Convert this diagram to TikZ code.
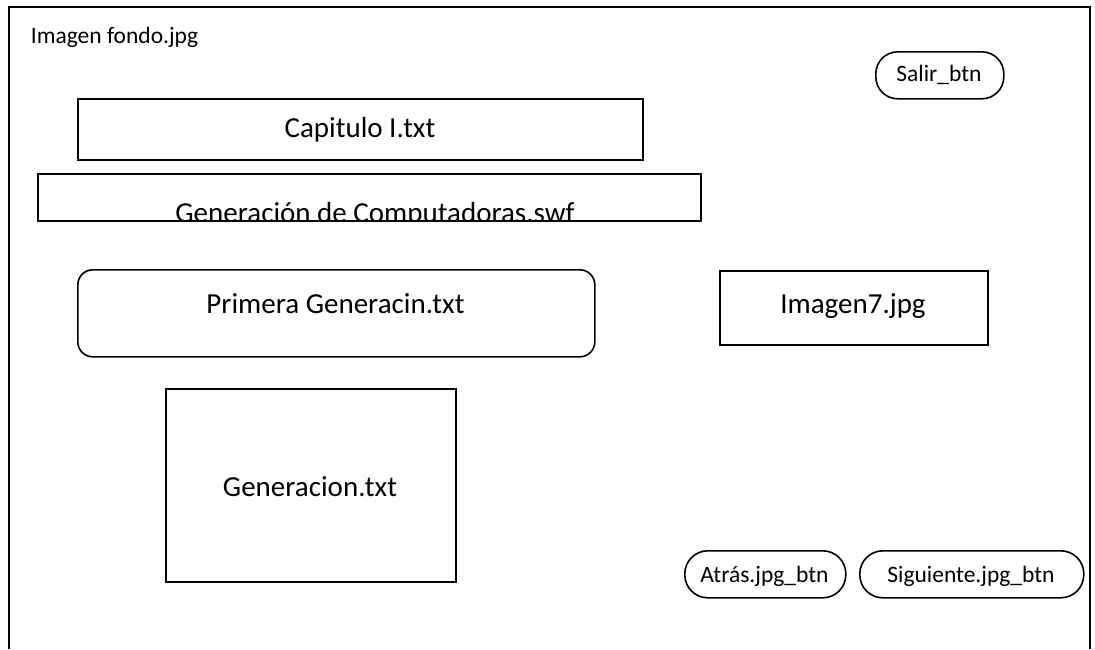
\documentclass[tikz,border=0pt]{standalone}
\usepackage{fontspec}
\setmainfont{Carlito}
\begin{document}
\begin{tikzpicture}[x=1pt,y=-1pt,
  ln/.style={line width=1.6pt, black},
  boxed/.style={ln, draw, rectangle, inner sep=0pt, anchor=north west},
  small/.style={font=\fontsize{23.5}{28}\selectfont, anchor=base, inner sep=0pt},
  big/.style={font=\fontsize{29}{34}\selectfont, anchor=base, inner sep=0pt}]
\useasboundingbox (0,0) rectangle (1095,649);
% outer frame (open at the bottom)
\draw[ln] (9,649) -- (9,7) -- (1090,7) -- (1090,649);
\node[small] (fondo) at (114.5,43) {Imagen fondo.jpg};
% Salir button
\node[boxed, rounded corners=22pt, minimum width=128pt, minimum height=47pt] (salirbox) at (875,51) {};
\node[small] (salir) at (939,81) {Salir\_btn};
% Capitulo
\node[boxed, minimum width=565pt, minimum height=61pt] (capbox) at (77,98) {};
\node[big] (cap) at (360,137) {Capitulo I.txt};
% Generacion de computadoras
\node[boxed, minimum width=663pt, minimum height=47pt] (swfbox) at (37,173) {};
\begin{scope}
\clip (38,174) rectangle (699,219.5);
\node[big] (swf) at (375,222) {Generación de Computadoras.swf};
\end{scope}
% Primera generacion
\node[boxed, rounded corners=15pt, minimum width=517pt, minimum height=87pt] (primbox) at (77,269) {};
\node[big] (prim) at (335.5,313) {Primera Generacin.txt};
% Imagen7
\node[boxed, minimum width=268pt, minimum height=74pt] (img7box) at (719,270) {};
\node[big] (img7) at (853,313) {Imagen7.jpg};
% Generacion.txt
\node[boxed, minimum width=290pt, minimum height=193pt] (genbox) at (165,388) {};
\node[big] (gen) at (310,496) {Generacion.txt};
% buttons
\node[boxed, rounded corners=23pt, minimum width=161pt, minimum height=47pt] (atrasbox) at (684,550) {};
\node[small] (atras) at (764.5,582) {Atrás.jpg\_btn};
\node[boxed, rounded corners=23pt, minimum width=224pt, minimum height=47pt] (sigbox) at (859,550) {};
\node[small] (sig) at (971,582) {Siguiente.jpg\_btn};
\end{tikzpicture}
\end{document}
